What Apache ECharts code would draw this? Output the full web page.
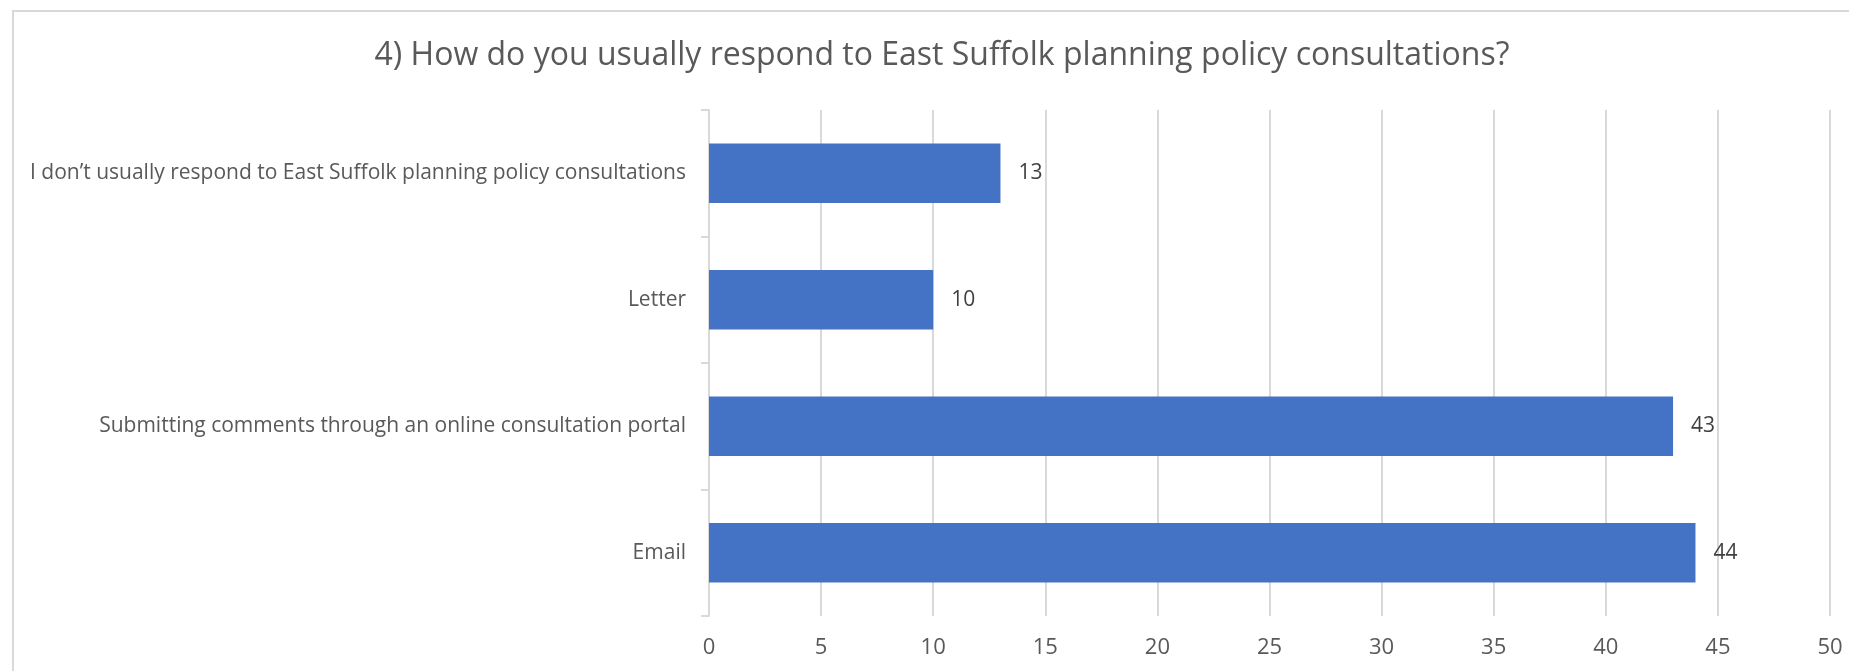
<!DOCTYPE html>
<html>
<head>
<meta charset="utf-8">
<script src="https://cdn.jsdelivr.net/npm/echarts@6/dist/echarts.min.js"></script>
<style>
html,body{margin:0;padding:0;background:#fff;}
#chart{width:1849px;height:671px;}
</style>
</head>
<body>
<div id="chart"></div>
<script>
const titleText = '4) How do you usually respond to East Suffolk planning policy consultations?';
const categories = [
  'I don\u2019t usually respond to East Suffolk planning policy consultations',
  'Letter',
  'Submitting comments through an online consultation portal',
  'Email'
];
const values = [13, 10, 43, 44];
const axisMin = 0;
const axisMax = 50;
const axisInterval = 5;

const FONT = '"Open Sans", "Liberation Sans", sans-serif';
const chart = echarts.init(document.getElementById('chart'), null, {renderer: 'canvas'});
chart.setOption({
  backgroundColor: '#ffffff',
  animation: false,
  graphic: [
    {
      type: 'rect', z: -10,
      shape: {x: 13, y: 11, width: 1900, height: 800},
      style: {fill: 'none', stroke: '#d9d9d9', lineWidth: 2}
    },
    {
      type: 'text', x: 942, y: 56,
      style: {
        text: titleText, fill: '#595959',
        font: '32px ' + FONT,
        align: 'center', verticalAlign: 'middle'
      }
    }
  ],
  grid: {left: 709, right: 19, top: 110, bottom: 55, containLabel: false},
  xAxis: {
    type: 'value', min: axisMin, max: axisMax, interval: axisInterval,
    axisLine: {show: false}, axisTick: {show: false},
    axisLabel: {color: '#595959', fontFamily: FONT, fontSize: 22, margin: 21},
    splitLine: {show: true, lineStyle: {color: '#d9d9d9', width: 2}}
  },
  yAxis: {
    type: 'category', data: categories, inverse: true,
    axisLine: {show: true, lineStyle: {color: '#d9d9d9', width: 2}},
    axisTick: {show: true, length: 8, lineStyle: {color: '#d9d9d9', width: 2}},
    axisLabel: {color: '#595959', fontFamily: FONT, fontSize: 21, margin: 23}
  },
  series: [{
    type: 'bar', data: values,
    barCategoryGap: '53%',
    itemStyle: {color: '#4472c4'},
    label: {
      show: true, position: 'right', distance: 18,
      color: '#404040', fontFamily: FONT, fontSize: 21
    }
  }]
});
</script>
</body>
</html>
